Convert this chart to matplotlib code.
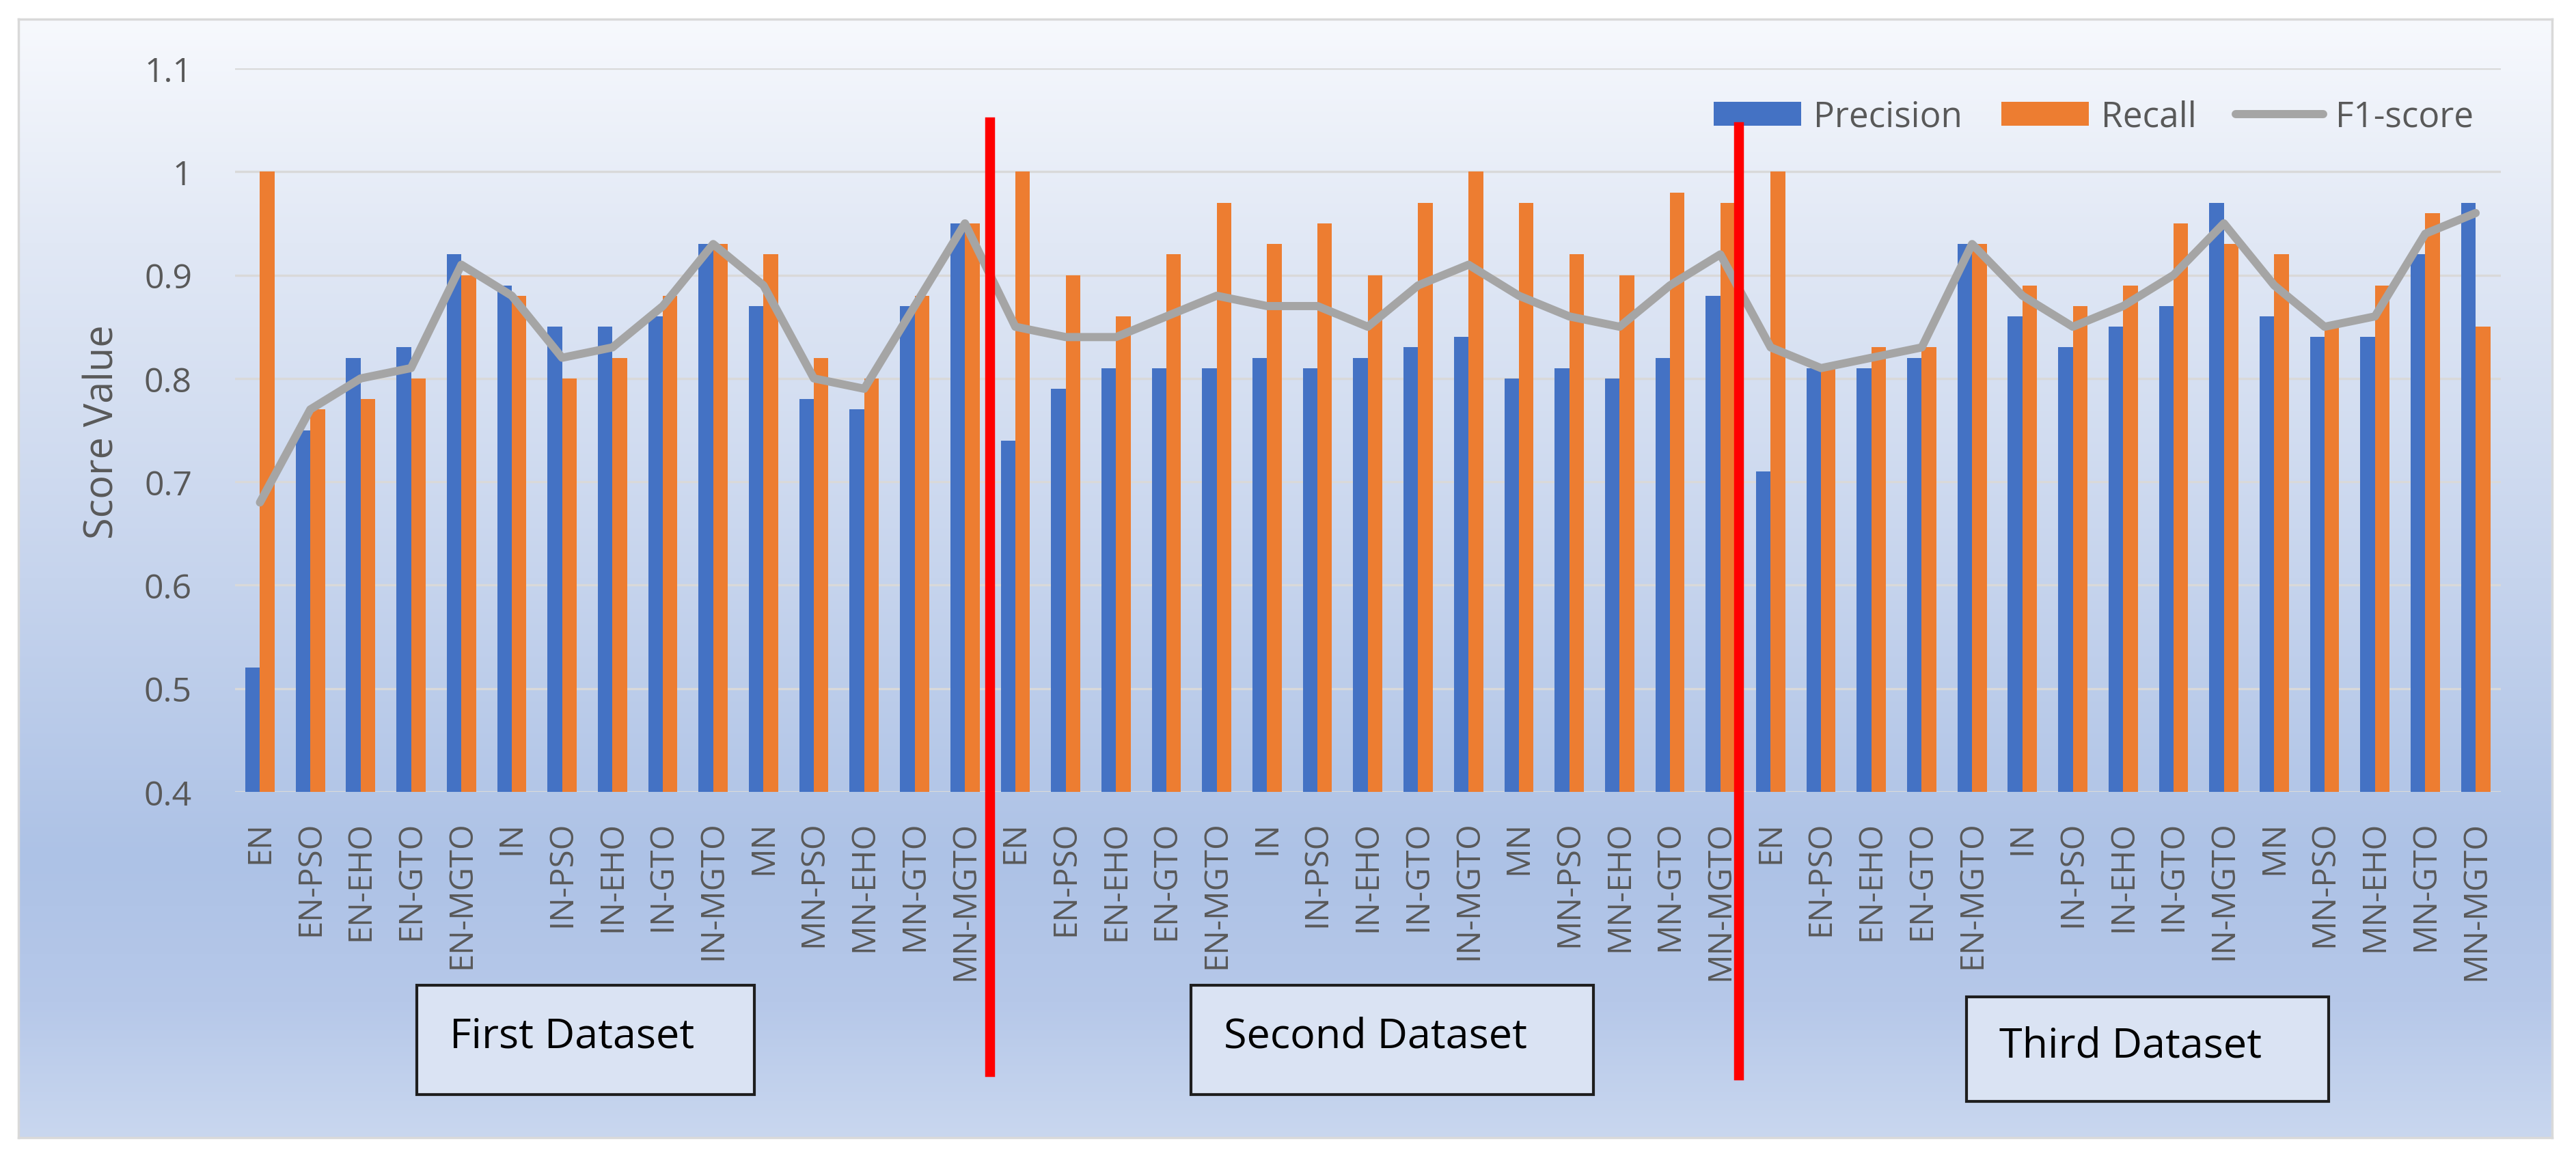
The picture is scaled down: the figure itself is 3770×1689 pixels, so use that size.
import numpy as np
import matplotlib
matplotlib.use("Agg")
import matplotlib.pyplot as plt
from matplotlib.patches import Rectangle, Patch
from matplotlib.lines import Line2D
from matplotlib.colors import to_rgb

plt.rcParams['font.family'] = ['Open Sans', 'DejaVu Sans']

# ---------------- data ----------------
methods = ['EN', 'EN-PSO', 'EN-EHO', 'EN-GTO', 'EN-MGTO',
           'IN', 'IN-PSO', 'IN-EHO', 'IN-GTO', 'IN-MGTO',
           'MN', 'MN-PSO', 'MN-EHO', 'MN-GTO', 'MN-MGTO']
categories = methods * 3

precision = [0.52, 0.75, 0.82, 0.83, 0.92, 0.89, 0.85, 0.85, 0.86, 0.93, 0.87, 0.78, 0.77, 0.87, 0.95,
             0.74, 0.79, 0.81, 0.81, 0.81, 0.82, 0.81, 0.82, 0.83, 0.84, 0.80, 0.81, 0.80, 0.82, 0.88,
             0.71, 0.81, 0.81, 0.82, 0.93, 0.86, 0.83, 0.85, 0.87, 0.97, 0.86, 0.84, 0.84, 0.92, 0.97]
recall = [1.00, 0.77, 0.78, 0.80, 0.90, 0.88, 0.80, 0.82, 0.88, 0.93, 0.92, 0.82, 0.80, 0.88, 0.95,
          1.00, 0.90, 0.86, 0.92, 0.97, 0.93, 0.95, 0.90, 0.97, 1.00, 0.97, 0.92, 0.90, 0.98, 0.97,
          1.00, 0.81, 0.83, 0.83, 0.93, 0.89, 0.87, 0.89, 0.95, 0.93, 0.92, 0.85, 0.89, 0.96, 0.85]
f1_score = [0.68, 0.77, 0.80, 0.81, 0.91, 0.88, 0.82, 0.83, 0.87, 0.93, 0.89, 0.80, 0.79, 0.87, 0.95,
            0.85, 0.84, 0.84, 0.86, 0.88, 0.87, 0.87, 0.85, 0.89, 0.91, 0.88, 0.86, 0.85, 0.89, 0.92,
            0.83, 0.81, 0.82, 0.83, 0.93, 0.88, 0.85, 0.87, 0.90, 0.95, 0.89, 0.85, 0.86, 0.94, 0.96]

series_names = ['Precision', 'Recall', 'F1-score']
ytick_values = [0.4, 0.5, 0.6, 0.7, 0.8, 0.9, 1.0, 1.1]
ytick_labels = ['0.4', '0.5', '0.6', '0.7', '0.8', '0.9', '1', '1.1']
dataset_names = ['First Dataset', 'Second Dataset', 'Third Dataset']
separator_positions = [14.5, 29.37]

# ---------------- styling / layout ----------------
BLUE = '#4472c4'
ORANGE = '#ed7d31'
GRAY = '#a5a5a5'
TXT = '#595959'
W, H = 3770, 1690


def fx(px):
    return px / W


def fy(py):
    return 1 - py / H


fig = plt.figure(figsize=(W / 100, H / 100), dpi=100)
fig.patch.set_facecolor('white')

# chart-area gradient background
cx0, cy0, cx1, cy1 = 27, 29, 3735, 1666
bg = fig.add_axes([fx(cx0), fy(cy1), fx(cx1) - fx(cx0), fy(cy0) - fy(cy1)], zorder=0)
stops_pos = [0.0, 0.20, 0.50, 0.75, 0.88, 1.0]
stops_col = ['#f7f9fd', '#e1e8f5', '#c6d4ed', '#adc2e6', '#b6c8e9', '#c9d7ef']
t = np.linspace(0, 1, 600)
rgb = np.array([to_rgb(c) for c in stops_col])
grad = np.stack([np.interp(t, stops_pos, rgb[:, k]) for k in range(3)], axis=1)
bg.imshow(grad[:, None, :], aspect='auto', extent=[0, 1, 0, 1], interpolation='bilinear')
bg.set_xticks([])
bg.set_yticks([])
for s in bg.spines.values():
    s.set_color('#d9d9d9')
    s.set_linewidth(2.5)

# main axes
ax = fig.add_axes([fx(343.6), fy(1160), fx(3660) - fx(343.6), fy(101) - fy(1160)], zorder=2)
ax.set_facecolor('none')

x = np.arange(len(categories))
bw = 0.29
ax.bar(x - bw / 2, precision, bw, color=BLUE, zorder=2)
ax.bar(x + bw / 2, recall, bw, color=ORANGE, zorder=2)
ax.plot(x, f1_score, color=GRAY, lw=8.6, solid_joinstyle='round', solid_capstyle='round', zorder=3)

ax.set_xlim(-0.5, len(categories) - 0.5)
ax.set_ylim(0.4, 1.1)
ax.set_yticks(ytick_values)
ax.set_yticklabels(ytick_labels)
ax.set_xticks(x)
ax.set_xticklabels(categories, rotation=90, va='top', ha='center')
ax.tick_params(axis='y', length=0, pad=45, labelsize=36, labelcolor=TXT)
ax.tick_params(axis='x', length=0, pad=30, labelsize=34, labelcolor=TXT)
ax.grid(axis='y', color='#d9d9d9', lw=2.4, zorder=1)
ax.set_axisbelow(True)
for s in ax.spines.values():
    s.set_visible(False)

fig.text(fx(150), fy(632), 'Score Value', rotation=90, ha='center', va='center',
         fontsize=41.5, color=TXT)

# separators
sep_extent = [(-0.387, 0.925), (-0.392, 0.919)]
for xp, (y0, y1) in zip(separator_positions, sep_extent):
    ax.axvline(xp, ymin=y0, ymax=y1, color='#ff0000', lw=10.4, clip_on=False, zorder=6)

# legend
handles = [Patch(facecolor=BLUE, edgecolor='none'),
           Patch(facecolor=ORANGE, edgecolor='none'),
           Line2D([0], [0], color=GRAY, lw=8.6, solid_capstyle='round')]
leg = ax.legend(handles, series_names, ncol=3, loc='center',
                bbox_to_anchor=(fx(3064), fy(172)), bbox_transform=fig.transFigure,
                frameon=False, fontsize=37, handlelength=2.5, handleheight=0.65,
                handletextpad=0.35, columnspacing=1.1, labelcolor=TXT)
leg.set_zorder(5)

# dataset boxes
boxes = [(610, 1443, 1104, 1603), (1743, 1443, 2332, 1603), (2878, 1460, 3408, 1613)]
for name, (bx0, by0, bx1, by1) in zip(dataset_names, boxes):
    fig.patches.append(Rectangle((fx(bx0), fy(by1)), fx(bx1) - fx(bx0), fy(by0) - fy(by1),
                                 transform=fig.transFigure, facecolor='#dae3f3',
                                 edgecolor='#1e1e1e', lw=3, zorder=4))
    fig.text(fx(bx0 + 48), fy((by0 + by1) / 2 - 5), name, ha='left', va='center',
             fontsize=44, color='black', zorder=5)

fig.savefig('out.png', dpi=100, facecolor='white')
